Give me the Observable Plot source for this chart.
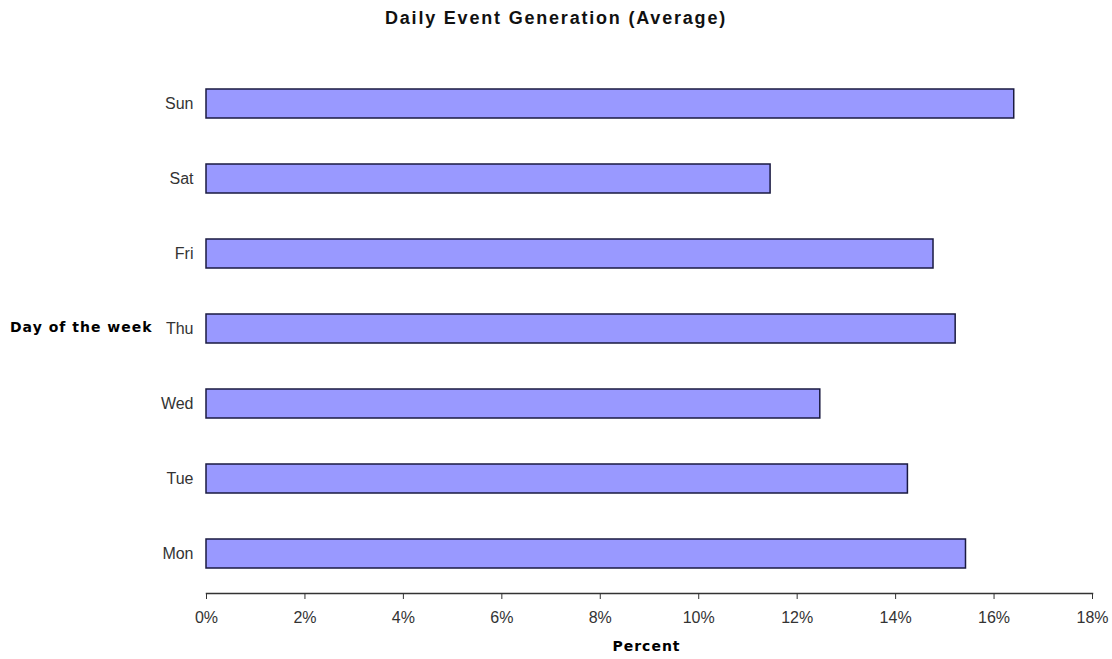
<!DOCTYPE html>
<html>
<head>
<meta charset="utf-8">
<script src="https://cdn.jsdelivr.net/npm/d3@7"></script>
<script src="https://cdn.jsdelivr.net/npm/@observablehq/plot@0.6"></script>
<style>
  html, body { margin: 0; padding: 0; background: #fff; }
  #wrap { position: relative; width: 1112px; height: 659px; font-family: "Liberation Sans", Arial, sans-serif; }
  #wrap svg { position: absolute; left: 0; top: 0; }
  .lbl { position: absolute; font-weight: bold; color: #000; white-space: nowrap; line-height: 1; }
  #title { left: 0; width: 1112px; text-align: center; top: 9px; font-size: 18px; letter-spacing: 1.8px; color: #111; }
  #ylab { left: 10px; top: 320px; font-size: 14px; letter-spacing: 1px; font-family: "DejaVu Sans", sans-serif; }
  #xlab { left: 0; width: 1293px; text-align: center; top: 639px; font-size: 14px; letter-spacing: 1px; font-family: "DejaVu Sans", sans-serif; }
</style>
</head>
<body>
<div id="wrap">
  <div class="lbl" id="title">Daily Event Generation (Average)</div>
  <div class="lbl" id="ylab">Day of the week</div>
  <div class="lbl" id="xlab">Percent</div>
</div>
<script>
const days = ["Sun", "Sat", "Fri", "Thu", "Wed", "Tue", "Mon"];
const percents = [0.1641, 0.1146, 0.1477, 0.1522, 0.1247, 0.1425, 0.1543];
const xTicks = [0, 0.02, 0.04, 0.06, 0.08, 0.10, 0.12, 0.14, 0.16, 0.18];

const data = days.map((d, i) => ({day: d, value: percents[i]}));

const chart = Plot.plot({
  width: 1112,
  height: 659,
  marginLeft: 206,
  marginRight: 20,
  marginTop: 64,
  marginBottom: 66,
  style: {fontFamily: "'Liberation Sans', Arial, sans-serif", fontSize: "16px", color: "#333", background: "transparent"},
  x: {domain: [0, 0.18], ticks: xTicks, tickFormat: d3.format(".0%"), label: null},
  y: {domain: days, paddingInner: 0.61, paddingOuter: 0.305, label: null},
  marks: [
    Plot.barX(data, {x: "value", y: "day", fill: "#9999ff", stroke: "#1a1a40", strokeWidth: 1.5}),
    Plot.frame({anchor: "bottom", stroke: "#333", strokeWidth: 1.5}),
    Plot.axisX({ticks: xTicks, tickFormat: d3.format(".0%"), tickSize: 6, tickPadding: 12, fontSize: 16, label: null, stroke: "#333"}),
    Plot.axisY({tickSize: 0, tickPadding: 13, fontSize: 16, label: null})
  ]
});
document.getElementById("wrap").prepend(chart);
</script>
</body>
</html>
